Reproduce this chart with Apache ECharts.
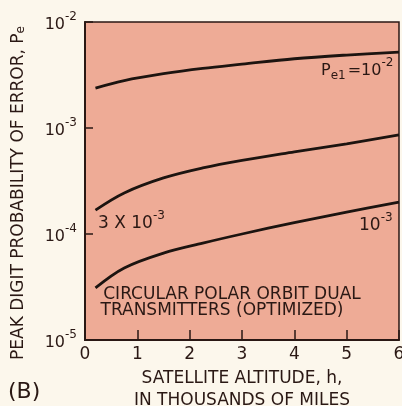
<!DOCTYPE html>
<html>
<head>
<meta charset="utf-8">
<script src="https://cdn.jsdelivr.net/npm/echarts@6/dist/echarts.min.js"></script>
<style>
  html, body { margin: 0; padding: 0; background: #fcf7ec; }
  #chart { width: 402px; height: 406px; }
</style>
</head>
<body>
<div id="chart"></div>
<script>
// altitude in thousands of miles
const altitude = [0.2, 0.75, 1.5, 2.25, 3, 4, 5, 6];
// peak digit probability of error for each Pe1
const pe1_1e2 = [2.38e-3, 2.8e-3, 3.25e-3, 3.65e-3, 4.0e-3, 4.5e-3, 4.88e-3, 5.2e-3];
const pe1_3e3 = [1.68e-4, 2.44e-4, 3.38e-4, 4.2e-4, 4.95e-4, 5.95e-4, 7.1e-4, 8.6e-4];
const pe1_1e3 = [3.1e-5, 4.78e-5, 6.6e-5, 8.2e-5, 1.0e-4, 1.28e-4, 1.61e-4, 2.0e-4];
const seriesNames = ["Pe1=10^-2", "3x10^-3", "10^-3"];

const ink = "#2a1814";
const font = "DejaVu Sans";

const chart = echarts.init(document.getElementById("chart"));

function pairs(ys) {
  return altitude.map((x, i) => [x, ys[i]]);
}

function curve(name, ys) {
  return {
    name: name,
    type: "line",
    smooth: 0.35,
    showSymbol: false,
    silent: true,
    lineStyle: { color: "#1c1410", width: 2.8 },
    data: pairs(ys)
  };
}

// text with a superscript tail, e.g. 10^-3
function supText(main, sup, size) {
  return {
    text: "{t|" + main + "}{sup|" + sup + "}",
    rich: {
      t: { fill: ink, fontFamily: font, fontSize: size, lineHeight: 22, verticalAlign: "bottom" },
      sup: { fill: ink, fontFamily: font, fontSize: 12, lineHeight: 12, verticalAlign: "top" }
    }
  };
}

const option = {
  backgroundColor: "#fcf7ec",
  animation: false,
  grid: {
    left: 85,
    right: 3,
    top: 22,
    bottom: 66,
    outerBoundsMode: "none",
    containLabel: false,
    show: true,
    backgroundColor: "#eeab96",
    borderColor: ink,
    borderWidth: 1.5
  },
  xAxis: {
    type: "value",
    min: 0,
    max: 6,
    interval: 1,
    name: "SATELLITE ALTITUDE, h,\nIN THOUSANDS OF MILES",
    nameLocation: "middle",
    nameGap: 21,
    nameTextStyle: {
      color: ink,
      fontFamily: font,
      fontSize: 17,
      lineHeight: 22,
      verticalAlign: "top"
    },
    axisLine: { lineStyle: { color: ink, width: 2 } },
    axisTick: { inside: true, length: 10, lineStyle: { color: ink, width: 1.5 } },
    axisLabel: { color: ink, fontFamily: font, fontSize: 17, margin: 6 },
    splitLine: { show: false }
  },
  yAxis: {
    type: "log",
    logBase: 10,
    min: 1e-5,
    max: 1e-2,
    axisLine: { lineStyle: { color: ink, width: 2 } },
    axisTick: { inside: true, length: 8, lineStyle: { color: ink, width: 1.5 } },
    minorTick: { show: false },
    splitLine: { show: false },
    axisLabel: {
      margin: 8,
      formatter: v => "{b|10}{s|" + Math.round(Math.log10(v)) + "}",
      rich: {
        b: { color: ink, fontFamily: font, fontSize: 16, lineHeight: 22, verticalAlign: "bottom" },
        s: { color: ink, fontFamily: font, fontSize: 12, lineHeight: 12, verticalAlign: "top" }
      }
    }
  },
  graphic: [
    {
      type: "text",
      x: 17,
      y: 193,
      rotation: Math.PI / 2,
      style: {
        text: "{t|PEAK DIGIT PROBABILITY OF ERROR, P}{s|e}",
        align: "center",
        verticalAlign: "middle",
        rich: {
          t: { fill: ink, fontFamily: font, fontSize: 17, lineHeight: 20, verticalAlign: "bottom" },
          s: { fill: ink, fontFamily: font, fontSize: 12, lineHeight: 20, verticalAlign: "bottom" }
        }
      }
    },
    {
      type: "text",
      x: 321,
      y: 57,
      style: {
        text: "{p|P}{sub|e1}{t|=10}{sup|-2}",
        rich: {
          p: { fill: ink, fontFamily: font, fontSize: 16, lineHeight: 22, verticalAlign: "bottom" },
          sub: { fill: ink, fontFamily: font, fontSize: 12, lineHeight: 12, verticalAlign: "bottom", padding: [0, 2, -3, 0] },
          t: { fill: ink, fontFamily: font, fontSize: 16, lineHeight: 22, verticalAlign: "bottom" },
          sup: { fill: ink, fontFamily: font, fontSize: 12, lineHeight: 12, verticalAlign: "top" }
        }
      }
    },
    { type: "text", x: 98, y: 210, style: supText("3 X 10", "-3", 17) },
    { type: "text", x: 359, y: 212, style: supText("10", "-3", 17) },
    {
      type: "text",
      x: 232,
      y: 295,
      style: {
        text: "CIRCULAR POLAR ORBIT DUAL",
        align: "center",
        verticalAlign: "middle",
        fill: ink,
        fontFamily: font,
        fontSize: 17
      }
    },
    {
      type: "text",
      x: 222,
      y: 311,
      style: {
        text: "TRANSMITTERS (OPTIMIZED)",
        align: "center",
        verticalAlign: "middle",
        fill: ink,
        fontFamily: font,
        fontSize: 17
      }
    },
    {
      type: "text",
      x: 8,
      y: 381,
      style: { text: "(B)", fill: ink, fontFamily: font, fontSize: 22 }
    }
  ],
  series: [
    curve(seriesNames[0], pe1_1e2),
    curve(seriesNames[1], pe1_3e3),
    curve(seriesNames[2], pe1_1e3)
  ]
};

chart.setOption(option);
</script>
</body>
</html>
